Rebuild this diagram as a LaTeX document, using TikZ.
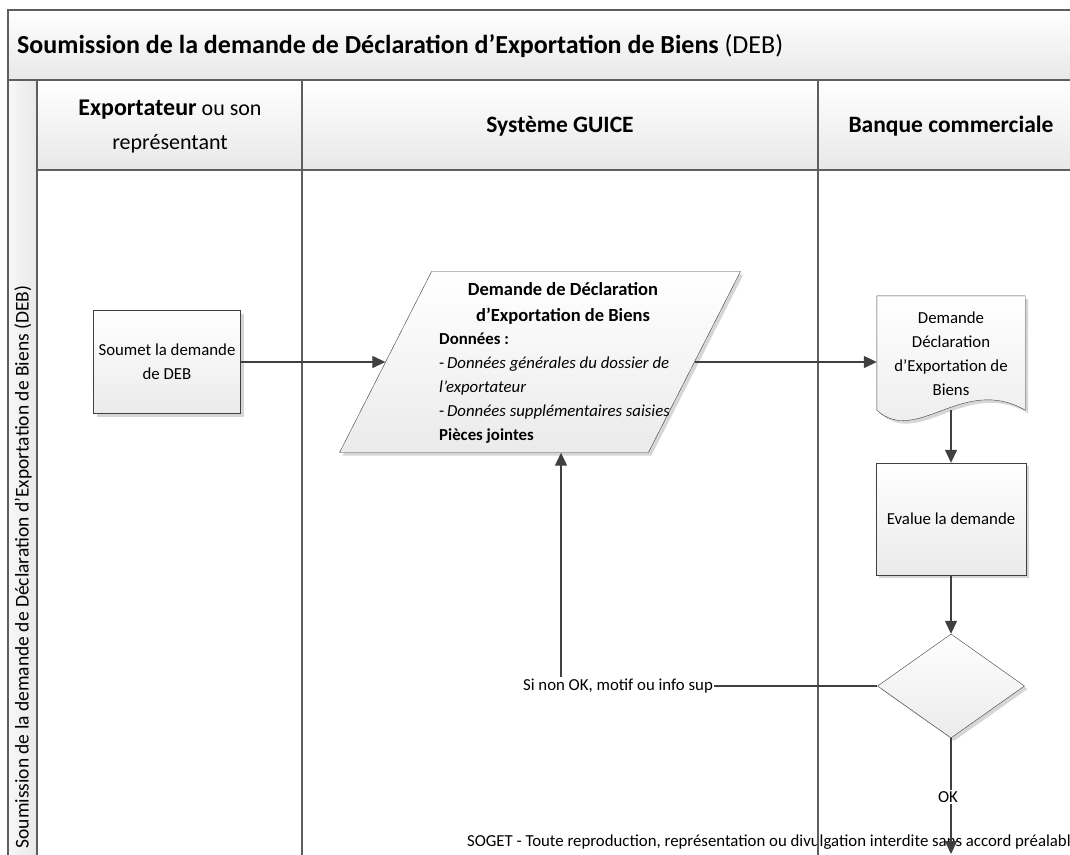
\documentclass[tikz,border=0pt]{standalone}
\usepackage{fontspec}
\setmainfont{Carlito}
\usetikzlibrary{positioning, shapes.geometric, arrows.meta, shadows}

\definecolor{frameline}{HTML}{5E5E5E}
\definecolor{linkline}{HTML}{404040}

\begin{document}
\begin{tikzpicture}[
  x=1pt, y=-1pt,
  >={Triangle[length=13pt, width=12pt]},
  every node/.style={font=\fontsize{16.8}{24}\selectfont},
  band/.style={draw=frameline, line width=1.2pt, top color=white, bottom color=black!9},
  lane/.style={draw=frameline, line width=1.2pt},
  boxshadow/.style={drop shadow={shadow xshift=3pt, shadow yshift=-3pt, fill=black!16, opacity=1}},
  task/.style={draw=linkline, top color=white, bottom color=black!8, boxshadow, align=center, inner sep=4pt},
  link/.style={->, draw=linkline, line width=1.3pt},
  tag/.style={fill=white, inner sep=1.5pt}
]
\useasboundingbox (0,0) rectangle (1070,854);
\clip (0,0) rectangle (1070,854);
\fill[white] (0,0) rectangle (1070,854);

% Title band
\draw[band] (8,10) rectangle (1100,80);
\node[anchor=west, inner sep=0pt, font=\fontsize{26}{30}\selectfont] (title) at (17,46)
  {\textbf{Soumission de la demande de Déclaration d’Exportation de Biens} (DEB)};

% Pool label column
\draw[lane, left color=black!3, right color=black!9] (8,80) rectangle (37,900);
\node[rotate=90, inner sep=0pt, font=\fontsize{19.5}{24}\selectfont] (poollabel) at (23,567)
  {Soumission de la demande de Déclaration d’Exportation de Biens (DEB)};

% Lane headers
\draw[band] (37,80) rectangle (302,170);
\draw[band] (302,80) rectangle (818,170);
\draw[band] (818,80) rectangle (1100,170);
\node[align=center, font=\fontsize{22}{34}\selectfont] (hexport) at (170,126)
  {{\fontsize{24}{34}\selectfont\bfseries Exportateur} ou son\\représentant};
\node[font=\fontsize{23.5}{28}\selectfont\bfseries] (hguice) at (560,126) {Système GUICE};
\node[font=\fontsize{23.5}{28}\selectfont\bfseries] (hbank) at (951,126) {Banque commerciale};

% Footer notice (lines run over it)
\node[anchor=base east, inner sep=0pt] (footer) at (820,846)
  {SOGET - Toute reproduction, représentation ou divu\rlap{lgation interdite sans accord préalable}};

% Lane bodies
\draw[lane] (37,170) rectangle (302,900);
\draw[lane] (302,170) rectangle (818,900);
\draw[lane] (818,170) rectangle (1100,900);

% Exportateur
\node[task, minimum width=147pt, minimum height=103pt] (submit) at (167,362)
  {Soumet la demande\\de DEB};

% Systeme GUICE
\node[trapezium, trapezium left angle=67, trapezium right angle=113, trapezium stretches=true,
  minimum width=401pt, minimum height=181pt, draw=linkline, top color=white, bottom color=black!8,
  boxshadow] (request) at (540,362) {};
\node[align=center, font=\fontsize{18.5}{26}\selectfont\bfseries] (requesttitle) at (563,303)
  {Demande de Déclaration\\d’Exportation de Biens};
\node[anchor=north west, align=left, inner sep=0pt] (requestdata) at (439,333)
  {\textbf{Données :}\\
   -\,\textit{Données générales du dossier de}\\
   \textit{l’exportateur}\\
   -\,\textit{Données supplémentaires saisies}\\
   \textbf{Pièces jointes}};

% Banque commerciale
\node[minimum width=148pt, minimum height=114pt, inner sep=0pt] (docbody) at (951,353) {};
\draw[draw=linkline, top color=white, bottom color=black!8, boxshadow]
  (docbody.south west) -- (docbody.north west) -- (docbody.north east) -- (docbody.south east)
  .. controls +(-62,-36) and +(40,36) .. (docbody.south west) -- cycle;
\node[align=center] (doctext) at (951,354) {Demande\\Déclaration\\d’Exportation de\\Biens};

\node[task, minimum width=150pt, minimum height=112pt] (evaluate) at (951,519) {Evalue la demande};
\node[diamond, aspect=1.41, minimum width=147pt, minimum height=104pt, inner sep=0pt,
  draw=linkline, top color=white, bottom color=black!8, boxshadow] (decision) at (951,686) {};

% Connectors
\coordinate (loopback) at (561,686);
\coordinate (exit) at (951,854);
\draw[link] (submit.east) -- (request.west);
\draw[link] (request.east) -- (request.east -| docbody.west);
\draw[link] (docbody.south) -- (evaluate.north);
\draw[link] (evaluate.south) -- (decision.north);
\draw[link] (decision.west) -- (loopback) -- (loopback |- request.south);
\draw[link] (decision.south) -- (exit);
\node[tag] (nok) at (618,686) {Si non OK, motif ou info sup};
\node[tag] (ok) at (948,797) {OK};

\end{tikzpicture}
\end{document}
